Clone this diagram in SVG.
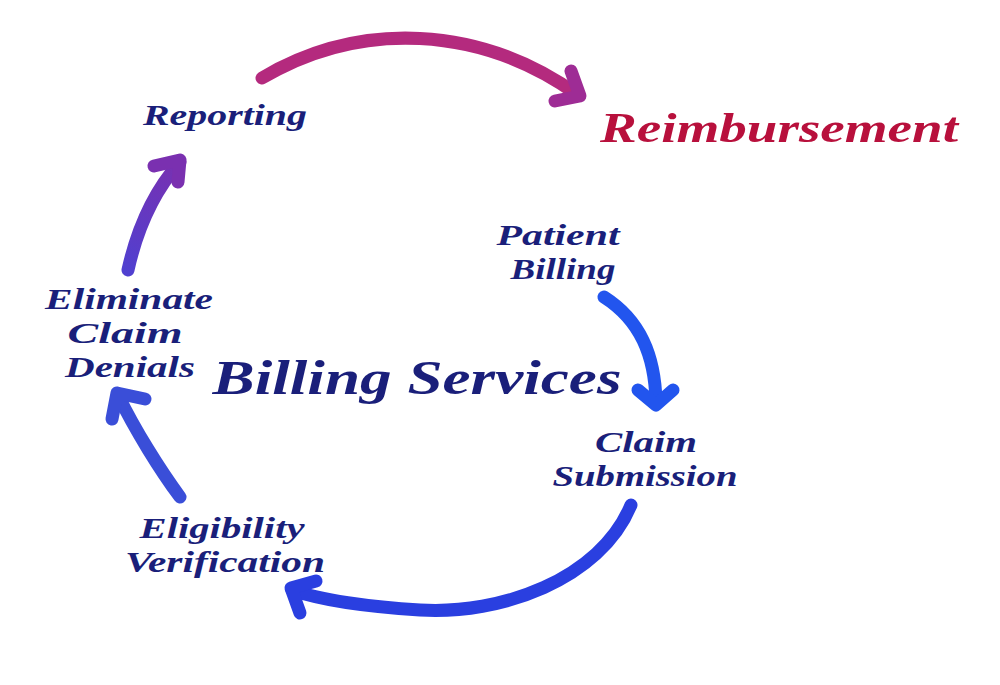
<svg xmlns="http://www.w3.org/2000/svg" width="1000" height="685" viewBox="0 0 1000 685">
<defs>
<style>
.t{font-family:"Liberation Serif","DejaVu Serif",serif;font-style:italic;font-weight:bold;fill:#1a1f7a;text-anchor:middle}
.n{font-size:30px}
.a{fill:none;stroke-width:13;stroke-linecap:round;stroke-linejoin:round}
</style>
<linearGradient id="g1" x1="0" y1="0" x2="1" y2="0"><stop offset="0" stop-color="#b52a80"/><stop offset="0.5" stop-color="#b8246f"/><stop offset="1" stop-color="#9a2c98"/></linearGradient>
<linearGradient id="g2" gradientUnits="userSpaceOnUse" x1="128" y1="272" x2="182" y2="160"><stop offset="0" stop-color="#5040d0"/><stop offset="1" stop-color="#7a30b0"/></linearGradient>
</defs>
<rect width="1000" height="685" fill="#ffffff"/>
<g id="connectors">
<g id="c-report-reimb" stroke="url(#g1)">
<path class="a" d="M262,78 C360,20 480,25 578,95" stroke="#b42a7e"/>
<polyline class="a" points="571,71 580,96 555,101" stroke="#9e2c95"/>
</g>
<g id="c-elim-report">
<path class="a" d="M128,270 C138,225 155,190 180,162" stroke="url(#g2)"/>
<polyline class="a" points="154,166 180,160 178,182" stroke="#7a30b0"/>
</g>
<g id="c-patient-claim" stroke="#2255ee">
<path class="a" d="M604,297 C640,320 655,355 656,402"/>
<polyline class="a" points="638,390 656,405 673,390"/>
</g>
<g id="c-claim-elig" stroke="#2a3fe0">
<path class="a" d="M631,505 C600,580 500,615 420,610 C370,607 320,600 292,590"/>
<polyline class="a" points="316,581 291,588 300,613"/>
</g>
<g id="c-elig-elim" stroke="#3a4ed8">
<path class="a" d="M180,497 C160,470 135,430 118,395"/>
<polyline class="a" points="112,419 117,393 145,399"/>
</g>
</g>
<g id="n-reporting"><text class="t n" x="225" y="125" textLength="164" lengthAdjust="spacingAndGlyphs">Reporting</text></g>
<g id="n-reimbursement"><text class="t" x="779" y="142" font-size="42" fill="#b8103c" style="fill:#b8103c" textLength="358" lengthAdjust="spacingAndGlyphs">Reimbursement</text></g>
<g id="n-patient"><text class="t n" x="558" y="245" textLength="123" lengthAdjust="spacingAndGlyphs">Patient</text><text class="t n" x="563" y="279" textLength="105" lengthAdjust="spacingAndGlyphs">Billing</text></g>
<g id="n-claim"><text class="t n" x="646" y="452" textLength="102" lengthAdjust="spacingAndGlyphs">Claim</text><text class="t n" x="645" y="486" textLength="185" lengthAdjust="spacingAndGlyphs">Submission</text></g>
<g id="n-center"><text class="t" x="417" y="394" font-size="48" textLength="409" lengthAdjust="spacingAndGlyphs">Billing Services</text></g>
<g id="n-eliminate"><text class="t n" x="129" y="309" textLength="168" lengthAdjust="spacingAndGlyphs">Eliminate</text><text class="t n" x="125" y="343" textLength="115" lengthAdjust="spacingAndGlyphs">Claim</text><text class="t n" x="130" y="377" textLength="130" lengthAdjust="spacingAndGlyphs">Denials</text></g>
<g id="n-eligibility"><text class="t n" x="222" y="538" textLength="165" lengthAdjust="spacingAndGlyphs">Eligibility</text><text class="t n" x="225" y="572" textLength="200" lengthAdjust="spacingAndGlyphs">Verification</text></g>
</svg>
